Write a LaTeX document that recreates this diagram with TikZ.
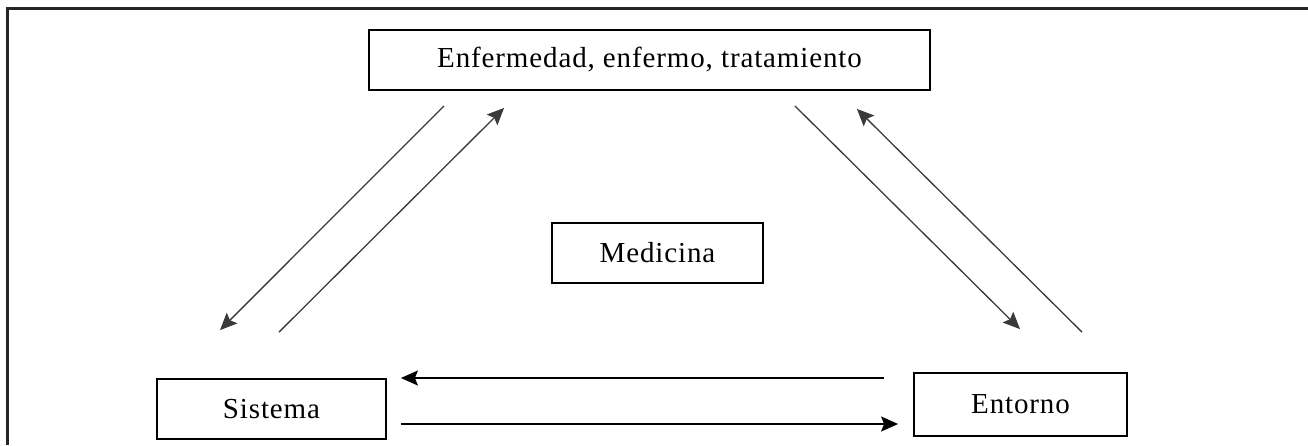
\documentclass[tikz,border=0pt]{standalone}
\usepackage{fontspec}
\setmainfont[LetterSpace=3]{Liberation Serif}
\usetikzlibrary{arrows.meta}
\definecolor{framegray}{HTML}{262626}
\definecolor{linegray}{HTML}{3A3A3A}
\tikzset{
  box/.style={draw=black, line width=1.8pt, fill=white, minimum width=#1, minimum height=60pt, inner sep=0pt, font=\fontsize{29}{32}\selectfont},
  conn/.style={line width=1.3pt, draw=linegray, -{Stealth[length=17pt,width=15pt,inset=3pt]}},
  hconn/.style={line width=1.5pt, draw=black, -{Stealth[length=17pt,width=15pt,inset=3pt]}}
}
\begin{document}
\begin{tikzpicture}[x=1pt,y=-1pt]
\useasboundingbox (0,0) rectangle (1308,445);
\draw[framegray, line width=3pt] (7,445) -- (7,8) -- (1308,8);
\node[box=561pt] (top) at (649.5,60) {Enfermedad, enfermo, tratamiento};
\node[box=211pt] (med) at (657.5,253) {Medicina};
\node[box=229pt] (sis) at (271.5,409) {Sistema};
\node[box=213pt, minimum height=63pt] (ent) at (1020.5,404.5) {Entorno};
% left pair
\draw[conn] ([shift={(76,15)}]top.south west) -- ([shift={(-51.5,-48)}]sis.north);
\draw[conn] ([shift={(7.5,-46)}]sis.north) -- ([shift={(136,17)}]top.south west);
% right pair
\draw[conn] ([shift={(-136,15)}]top.south east) -- ([shift={(-0.5,-43)}]ent.north);
\draw[conn] ([shift={(61.5,-40)}]ent.north) -- ([shift={(-74,18)}]top.south east);
% bottom pair
\draw[hconn] ([shift={(-29,-26.5)}]ent.west) -- ([shift={(14,-31)}]sis.east);
\draw[hconn] ([shift={(14,15)}]sis.east) -- ([shift={(-15,19.5)}]ent.west);
\end{tikzpicture}
\end{document}
